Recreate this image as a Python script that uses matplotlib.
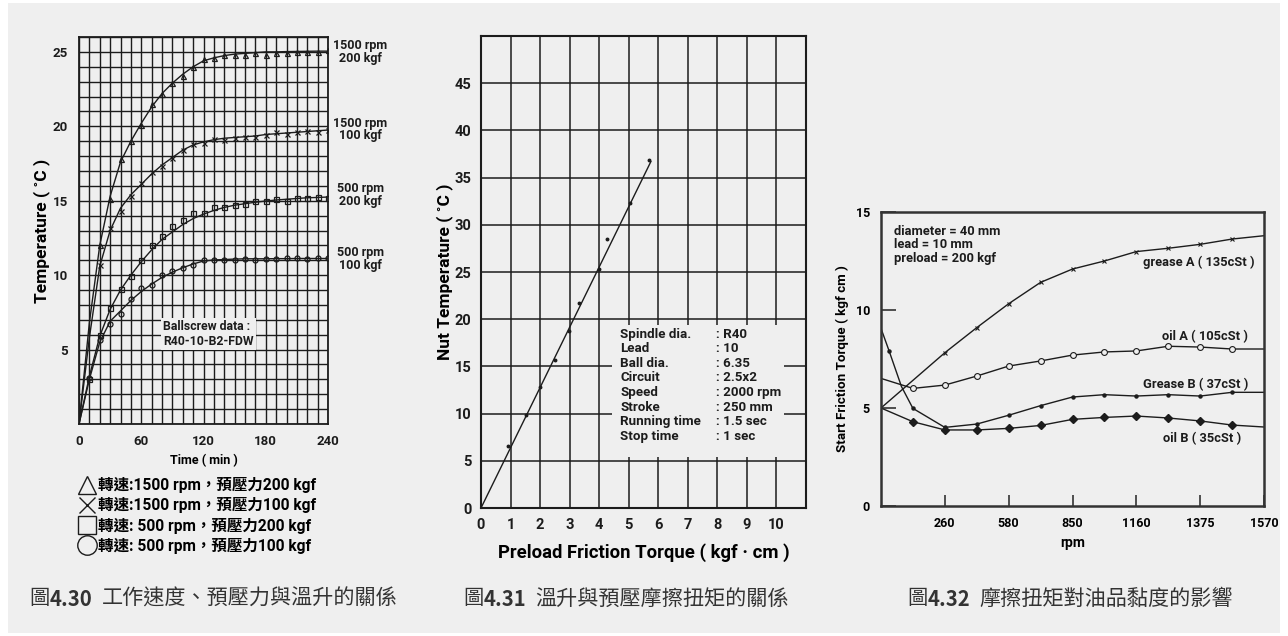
"""
Ballscrew temperature / friction torque figures (4.30, 4.31, 4.32).
"""
import numpy as np
import matplotlib
matplotlib.use('Agg')
import matplotlib.pyplot as plt
from matplotlib.lines import Line2D
from matplotlib.patches import Rectangle

W, H = 1288, 636
BG = '#efefef'
INK = '#1c1c1c'
LAT = ['Roboto', 'Noto Sans CJK TC', 'DejaVu Sans']
CJK = ['Noto Sans CJK TC', 'DejaVu Sans']
WT = 'bold'
plt.rcParams['font.family'] = LAT

# ---- fig 4.30: temperature rise vs time ----
time_curve = [0, 10, 20, 30, 40, 50, 60, 70, 80, 90, 100, 110, 120,
              130, 140, 150, 160, 170, 180, 190, 200, 210, 220, 230, 240]
tri_curve = [0, 6.8, 12.0, 15.3, 17.6, 19.0, 20.2, 21.3, 22.2, 22.9, 23.5, 24.0, 24.4,
             24.6, 24.75, 24.85, 24.9, 24.95, 25.0, 25.0, 25.02, 25.03, 25.04, 25.05, 25.05]
crs_curve = [0, 5.8, 10.6, 13.0, 14.5, 15.4, 16.1, 16.8, 17.4, 17.9, 18.4, 18.75, 18.95,
             19.1, 19.2, 19.25, 19.3, 19.35, 19.45, 19.5, 19.55, 19.6, 19.65, 19.7, 19.75]
sq_curve = [0, 3.2, 5.9, 7.7, 9.0, 10.0, 10.9, 11.7, 12.4, 12.9, 13.4, 13.8, 14.1,
            14.35, 14.55, 14.7, 14.8, 14.9, 14.98, 15.05, 15.1, 15.15, 15.2, 15.22, 15.25]
cir_curve = [0, 3.0, 5.5, 6.9, 7.6, 8.3, 8.9, 9.4, 9.85, 10.2, 10.5, 10.75, 10.95,
             11.02, 11.05, 11.08, 11.1, 11.1, 11.1, 11.11, 11.11, 11.12, 11.12, 11.12, 11.12]

time_pts = [10, 20, 30, 40, 50, 60, 70, 80, 90, 100, 110, 120,
            130, 140, 150, 160, 170, 180, 190, 200, 210, 220, 230, 240]
tri_pts = [np.nan, 12.0, 15.1, 17.8, 19.0, 20.1, 21.5, 22.2, 22.9, 23.4, 24.0, 24.5,
           24.6, 24.8, 24.8, 24.8, 24.9, 24.8, 24.9, 24.9, 25.0, 25.0, 25.0, 25.1]
crs_pts = [np.nan, 10.7, 13.2, 14.3, 15.3, 16.2, 16.9, 17.3, 17.9, 18.4, 18.8, 18.9,
           19.15, 19.1, 19.2, 19.25, 19.3, 19.4, 19.6, 19.5, 19.65, 19.7, 19.65, 19.75]
sq_pts = [3.0, 6.0, 7.8, 9.05, 9.95, 11.0, 12.0, 12.6, 13.3, 13.7, 14.2, 14.2,
          14.55, 14.6, 14.7, 14.8, 14.95, 14.95, 15.1, 15.0, 15.15, 15.15, 15.25, 15.2]
cir_pts = [3.1, 5.65, 6.7, 7.4, 8.4, 9.15, 9.35, 10.0, 10.25, 10.5, 10.65, 11.0,
           11.0, 11.0, 11.05, 11.1, 11.05, 11.1, 11.1, 11.15, 11.15, 11.1, 11.15, 11.15]
series_tags = ['1500 rpm\n200 kgf', '1500 rpm\n100 kgf', '500 rpm\n200 kgf', '500 rpm\n100 kgf']
legend_txt = ['轉速:1500 rpm，預壓力200 kgf', '轉速:1500 rpm，預壓力100 kgf',
              '轉速: 500 rpm，預壓力200 kgf', '轉速: 500 rpm，預壓力100 kgf']

# ---- fig 4.31: nut temperature vs preload friction torque ----
torque_pts = [0.92, 1.53, 2.0, 2.51, 2.99, 3.30, 3.98, 4.28, 5.03, 5.69]
nut_temp_pts = [6.6, 9.9, 12.85, 15.7, 18.7, 21.7, 25.3, 28.45, 32.3, 36.9]
torque_fit = [0, 5.75]
nut_temp_fit = [0, 36.7]
spec_names = ['Spindle dia.', 'Lead', 'Ball dia.', 'Circuit', 'Speed', 'Stroke',
              'Running time', 'Stop time']
spec_vals = [': R40', ': 10', ': 6.35', ': 2.5x2', ': 2000 rpm', ': 250 mm',
             ': 1.5 sec', ': 1 sec']

# ---- fig 4.32: start friction torque vs rpm ----
rpm_labels = ['260', '580', '850', '1160', '1375', '1570']
greaseA_x = [0, 1, 1.5, 2, 2.5, 3, 3.5, 4, 4.5, 5, 5.5, 6]
greaseA_y = [5.0, 7.82, 9.1, 10.32, 11.41, 12.09, 12.5, 12.98, 13.15, 13.35, 13.62, 13.79]
oilA_x = [0, 0.5, 1, 1.5, 2, 2.5, 3, 3.5, 4, 4.5, 5, 5.5, 6]
oilA_y = [6.51, 6.0, 6.17, 6.63, 7.14, 7.4, 7.7, 7.86, 7.91, 8.15, 8.11, 8.01, 8.01]
greaseB_x = [0, 0.125, 0.32, 0.5, 1, 1.5, 2, 2.5, 3, 3.5, 4, 4.5, 5, 5.5, 6]
greaseB_y = [9.06, 7.93, 6.1, 4.98, 4.01, 4.18, 4.63, 5.12, 5.56, 5.68, 5.61, 5.68, 5.61, 5.8, 5.8]
oilB_x = [0, 0.5, 1, 1.5, 2, 2.5, 3, 3.5, 4, 4.5, 5, 5.5, 6]
oilB_y = [5.0, 4.3, 3.88, 3.88, 3.96, 4.11, 4.42, 4.52, 4.59, 4.49, 4.34, 4.13, 4.03]


def px_rect(x0, y0, x1, y1):
    return [x0 / W, 1 - y1 / H, (x1 - x0) / W, (y1 - y0) / H]


fig = plt.figure(figsize=(W / 100, H / 100), dpi=100, facecolor='white')
bg = fig.add_axes([0, 0, 1, 1], zorder=-5)
bg.set_xlim(0, W)
bg.set_ylim(H, 0)
bg.axis('off')
bg.add_patch(Rectangle((8, 3), W - 16, H - 6, facecolor=BG, edgecolor='none'))

# ================= left chart =================
ax1 = fig.add_axes(px_rect(79, 37, 328, 424))
ax1.set_facecolor(BG)
ax1.set_xlim(0, 240)
ax1.set_ylim(0, 26)
ax1.set_xticks([0, 60, 120, 180, 240])
ax1.set_xticks(np.arange(0, 241, 10), minor=True)
ax1.set_yticks([5, 10, 15, 20, 25])
ax1.set_yticks(np.arange(0, 27, 1), minor=True)
ax1.grid(True, which='both', color=INK, lw=1.0)
ax1.set_axisbelow(True)
ax1.tick_params(which='both', length=0, labelsize=9.5, colors=INK, pad=8)
for lab in ax1.get_xticklabels() + ax1.get_yticklabels():
    lab.set_fontweight(WT)
for s in ax1.spines.values():
    s.set_linewidth(1.3)
    s.set_color(INK)
ax1.set_xlabel('Time ( min )', fontsize=9, fontweight=WT, labelpad=4)
ax1.set_ylabel('Temperature ( ˚C )', fontsize=12.5, fontweight=WT, labelpad=2)

curves = [tri_curve, crs_curve, sq_curve, cir_curve]
points = [tri_pts, crs_pts, sq_pts, cir_pts]
marks = ['^', 'x', 's', 'o']
for cv, pts, mk in zip(curves, points, marks):
    ax1.plot(time_curve, cv, color=INK, lw=1.0, zorder=3)
    ax1.plot(time_pts, pts, ls='none', marker=mk, ms=3.6, mfc='none',
             mec=INK, mew=0.9, zorder=4)

for tag, yv in zip(series_tags, [25.0, 19.8, 15.4, 11.1]):
    ax1.text(1.13, yv, tag, transform=ax1.get_yaxis_transform(), ha='center',
             va='center', fontsize=9.0, fontweight=WT, linespacing=0.95,
             color=INK, clip_on=False)

ax1.text(81, 6.05, 'Ballscrew data :\nR40-10-B2-FDW', fontsize=8.8,
         fontweight=WT, va='center', ha='left', linespacing=1.15, color=INK,
         zorder=5, bbox=dict(facecolor=BG, edgecolor='none', pad=1.5))

handles = [Line2D([], [], ls='none', marker=m, ms=ms, mfc='none', mec=INK, mew=1.0)
           for m, ms in zip(marks, [13, 12, 13, 14])]
fig.legend(handles, legend_txt, loc='upper left',
           bbox_to_anchor=(80 / W, 1 - 477 / H), frameon=False,
           prop=dict(family=LAT, size=11.2, weight='bold'),
           handlelength=0.85, handletextpad=0.3, labelspacing=0.27,
           borderpad=0, borderaxespad=0)

# ================= middle chart =================
ax2 = fig.add_axes(px_rect(481, 36, 806, 508))
ax2.set_facecolor(BG)
ax2.set_xlim(0, 11)
ax2.set_ylim(0, 50)
ax2.set_xticks(range(0, 11))
ax2.set_yticks(range(0, 50, 5))
ax2.grid(True, color=INK, lw=1.1)
ax2.set_axisbelow(True)
ax2.tick_params(length=0, labelsize=10.5, colors=INK, pad=7)
for lab in ax2.get_xticklabels() + ax2.get_yticklabels():
    lab.set_fontweight(WT)
for s in ax2.spines.values():
    s.set_linewidth(1.5)
    s.set_color(INK)
ax2.set_xlabel('Preload Friction Torque ( kgf · cm )', fontsize=13.3,
               fontweight=WT, labelpad=8)
ax2.set_ylabel('Nut Temperature ( ˚C )', fontsize=12.5, fontweight=WT, labelpad=1)

ax2.plot(torque_fit, nut_temp_fit, color=INK, lw=1.0, zorder=3)
ax2.plot(torque_pts, nut_temp_pts, ls='none', marker='o', ms=1.8, color=INK, zorder=4)
ax2.add_patch(Rectangle((4.44, 5.4), 5.8, 14.0, facecolor=BG, edgecolor='none', zorder=2))
ax2.text(4.71, 19.1, '\n'.join(spec_names), fontsize=9.6, fontweight=WT,
         va='top', ha='left', linespacing=1.16, color=INK, zorder=5)
ax2.text(7.97, 19.1, '\n'.join(spec_vals), fontsize=9.6, fontweight=WT,
         va='top', ha='left', linespacing=1.16, color=INK, zorder=5)

# ================= right chart =================
ax3 = fig.add_axes(px_rect(881, 212, 1264, 506))
ax3.set_facecolor(BG)
ax3.set_xlim(0, 6)
ax3.set_ylim(0, 15)
ax3.set_xticks(range(1, 7))
ax3.set_xticklabels(rpm_labels)
ax3.set_yticks([0, 5, 10, 15])
ax3.tick_params(axis='x', direction='in', length=8, width=1.2, color='#333333',
                labelsize=9, pad=8)
ax3.tick_params(axis='y', direction='in', length=11, width=1.2, color='#333333',
                labelsize=9, pad=8)
for lab in ax3.get_xticklabels() + ax3.get_yticklabels():
    lab.set_fontweight(WT)
for s in ax3.spines.values():
    s.set_linewidth(1.8)
    s.set_color('#333333')
ax3.set_xlabel('rpm', fontsize=10, fontweight=WT, labelpad=4)
ax3.set_ylabel('Start Friction Torque ( kgf cm )', fontsize=9.6, fontweight=WT,
               labelpad=5)

ax3.plot(greaseA_x, greaseA_y, color=INK, lw=1.0, marker='x', ms=3.5, mew=0.8,
         markevery=list(range(1, len(greaseA_x) - 1)))
ax3.plot(oilA_x, oilA_y, color=INK, lw=1.0, marker='o', ms=4.2, mfc=BG, mew=0.8,
         markevery=list(range(1, len(oilA_x) - 1)))
ax3.plot(greaseB_x, greaseB_y, color=INK, lw=1.0, marker='o', ms=2.2,
         markevery=[1, 3, 4, 5, 6, 7, 8, 9, 10, 11, 12, 13])
ax3.plot(oilB_x, oilB_y, color=INK, lw=1.0, marker='D', ms=3.8,
         markevery=list(range(1, len(oilB_x) - 1)))

ax3.text(0.2, 14.35, 'diameter = 40 mm\nlead = 10 mm\npreload = 200 kgf', fontsize=9.3,
         fontweight=WT, va='top', ha='left', linespacing=1.05, color=INK)
for txt, xv, yv in [('grease A ( 135cSt )', 5.85, 12.45), ('oil A ( 105cSt )', 5.75, 8.65),
                    ('Grease B ( 37cSt )', 5.75, 6.2), ('oil B ( 35cSt )', 5.65, 3.45)]:
    ax3.text(xv, yv, txt, fontsize=9.3, fontweight=WT, ha='right', va='center',
             color=INK)

# ================= captions =================
def caption(x, y, num, body):
    t1 = bg.text(x, y, '圖', family=CJK, fontsize=14.6, color='#333333', va='center')
    t2 = bg.annotate(num, xy=(1, 0.5), xycoords=t1, va='center', ha='left',
                     family=CJK, fontsize=14.6, fontweight='bold', color='#333333')
    bg.annotate(body, xy=(1, 0.5), xycoords=t2, xytext=(7, 0),
                textcoords='offset points', va='center', ha='left',
                family=CJK, fontsize=15.2, color='#333333')


caption(29, 599, '4.30', '工作速度、預壓力與溫升的關係')
caption(463, 599, '4.31', '溫升與預壓摩擦扭矩的關係')
caption(907, 599, '4.32', '摩擦扭矩對油品黏度的影響')

fig.savefig('out.png', dpi=100, facecolor=fig.get_facecolor())
